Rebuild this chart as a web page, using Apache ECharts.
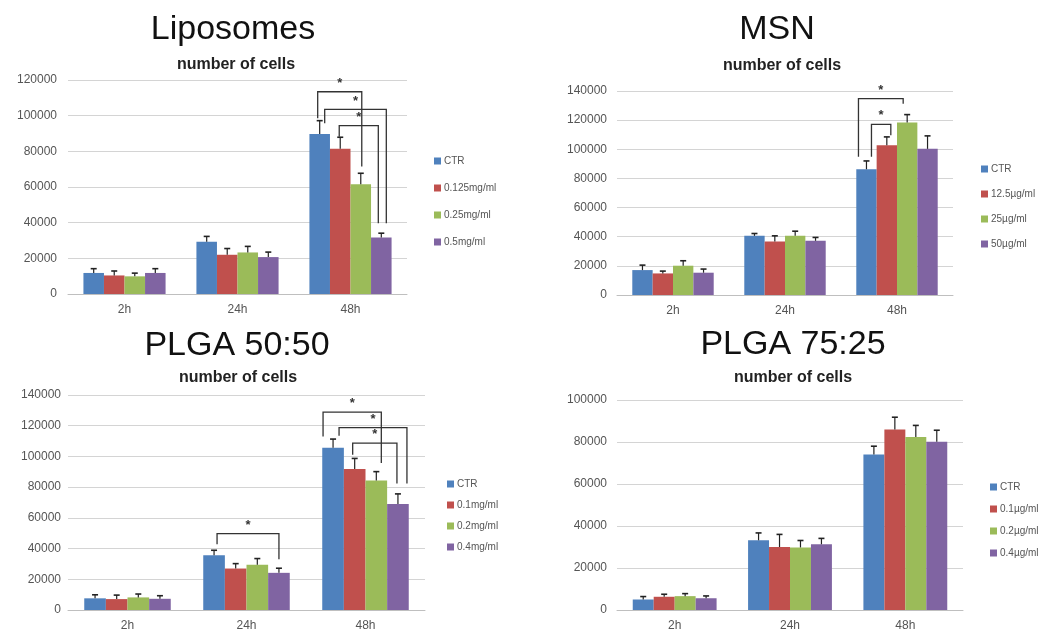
<!DOCTYPE html>
<html><head><meta charset="utf-8">
<script src="https://cdn.jsdelivr.net/npm/echarts@6/dist/echarts.min.js"></script>
<style>html,body{margin:0;padding:0;background:#fff}#c{width:1049px;height:632px}</style>
</head><body><div id="c"></div>
<script>
// ---------- DATA ----------
const categories = ['2h', '24h', '48h'];

const lipoTitle = 'Liposomes';
const lipoNames = ['CTR', '0.125mg/ml', '0.25mg/ml', '0.5mg/ml'];
const lipoValues = [[11800, 29300, 89700], [10400, 22000, 81500], [9900, 23300, 61600], [11800, 20700, 31700]];
const lipoErrors = [[2400, 3000, 7500], [2500, 3500, 6400], [1800, 3400, 6100], [2400, 2800, 2400]];
// [category, fromSeries, toSeries, topValue, leftLegEnd, rightLegEnd]
const lipoBrackets = [[2, 0, 2, 113400, 98500, 71500], [2, 0, 3, 103500, 95700, 39700], [2, 1, 3, 94400, 88200, 39700]];
const lipoTicks = [0, 120000, 20000];

const msnTitle = 'MSN';
const msnNames = ['CTR', '12.5µg/ml', '25µg/ml', '50µg/ml'];
const msnValues = [[17100, 40600, 86300], [14800, 36800, 102800], [20100, 40600, 118300], [15300, 37200, 100300]];
const msnErrors = [[3400, 1600, 5700], [1600, 3800, 5700], [3400, 3200, 5500], [2500, 2300, 8900]];
const msnBrackets = [[2, 0, 2, 134700, 94800, 131300], [2, 0, 1, 117100, 94800, 109600]];
const msnTicks = [0, 140000, 20000];

const p50Title = 'PLGA 50:50';
const p50Names = ['CTR', '0.1mg/ml', '0.2mg/ml', '0.4mg/ml'];
const p50Values = [[7600, 35600, 105600], [7100, 27000, 91800], [8200, 29400, 84300], [7300, 24200, 69100]];
const p50Errors = [[2300, 3300, 5700], [2600, 3200, 6900], [2200, 4100, 5800], [2000, 3000, 6500]];
const p50Brackets = [[1, 0, 3, 49700, 42800, 33100], [2, 0, 2, 128800, 113000, 95700], [2, 0, 3, 118800, 113500, 82300], [2, 1, 3, 108700, 101100, 82300]];
const p50Ticks = [0, 140000, 20000];

const p75Title = 'PLGA 75:25';
const p75Names = ['CTR', '0.1µg/ml', '0.2µg/ml', '0.4µg/ml'];
const p75Values = [[5000, 33200, 74100], [6300, 30000, 85900], [6600, 29800, 82400], [5600, 31300, 80100]];
const p75Errors = [[1400, 3500, 3900], [1200, 6000, 5900], [1200, 3300, 5500], [1100, 2800, 5500]];
const p75Brackets = [];
const p75Ticks = [0, 100000, 20000];

const subTitle = 'number of cells';

// ---------- STYLE / LAYOUT ----------
const colors = ['#4F81BD', '#C0504D', '#9BBB59', '#8064A2'];
const GAP = 0.273;
const panels = [
  { title: lipoTitle, names: lipoNames, values: lipoValues, errors: lipoErrors, brackets: lipoBrackets, ticks: lipoTicks,
    nudges: [[-2, 1], [5, 5], [-1, -3]],
    grid: { left: 68, top: 80, width: 339, height: 214 }, titleXY: [233, 30], subXY: [236, 65],
    legend: { left: 429, top: 150, itemGap: 15 }, yMargin: 11 },
  { title: msnTitle, names: msnNames, values: msnValues, errors: msnErrors, brackets: msnBrackets, ticks: msnTicks,
    nudges: [[-8, -4], [5, 4]],
    grid: { left: 617, top: 91, width: 336, height: 204 }, titleXY: [777, 30], subXY: [782, 66],
    legend: { left: 976, top: 158, itemGap: 13 }, yMargin: 10 },
  { title: p50Title, names: p50Names, values: p50Values, errors: p50Errors, brackets: p50Brackets, ticks: p50Ticks,
    nudges: [[3, 0], [-10, 5], [6, 9], [-2, -1]],
    grid: { left: 68, top: 395, width: 357, height: 216 }, titleXY: [237, 346], subXY: [238, 378],
    legend: { left: 442, top: 473, itemGap: 9 }, yMargin: 7 },
  { title: p75Title, names: p75Names, values: p75Values, errors: p75Errors, brackets: p75Brackets, ticks: p75Ticks,
    nudges: [],
    grid: { left: 617, top: 400, width: 346, height: 213 }, titleXY: [793, 345], subXY: [793, 378],
    legend: { left: 985, top: 476, itemGap: 10 }, yMargin: 10 }
];

function barCenter(api, c, s) {
  const catW = api.size([1, 0])[0];
  const barW = catW * (1 - GAP) / 4;
  return api.coord([c, 0])[0] - 2 * barW + (s + 0.5) * barW;
}

const option = {
  animation: false,
  backgroundColor: '#ffffff',
  grid: [], xAxis: [], yAxis: [], series: [], legend: [], graphic: []
};

panels.forEach((p, gi) => {
  option.grid.push(Object.assign({ containLabel: false }, p.grid));
  option.xAxis.push({
    type: 'category', gridIndex: gi, data: categories,
    axisLine: { show: true, lineStyle: { color: '#bfbfbf', width: 1 } },
    axisTick: { show: false },
    axisLabel: { color: '#555', fontFamily: 'Liberation Sans', fontSize: 12, margin: 10 }
  });
  option.yAxis.push({
    type: 'value', gridIndex: gi, min: p.ticks[0], max: p.ticks[1], interval: p.ticks[2],
    axisLine: { show: false }, axisTick: { show: false },
    splitLine: { lineStyle: { color: '#d4d4d4', width: 1 } },
    axisLabel: { color: '#555', fontFamily: 'Liberation Sans', fontSize: 12, margin: p.yMargin,
      formatter: v => String(v) }
  });
  p.names.forEach((n, s) => {
    option.series.push({
      type: 'bar', name: n, xAxisIndex: gi, yAxisIndex: gi, data: p.values[s],
      barGap: '0%', barCategoryGap: (GAP * 100) + '%',
      itemStyle: { color: colors[s] }, z: 2
    });
  });
  // error bars (positive side)
  const errData = [];
  p.values.forEach((row, s) => row.forEach((v, c) => errData.push([c, s, v, p.errors[s][c]])));
  option.series.push({
    type: 'custom', xAxisIndex: gi, yAxisIndex: gi, data: errData, encode: { x: 0, y: 2 }, z: 5,
    silent: true,
    renderItem: (params, api) => {
      const c = api.value(0), s = api.value(1), v = api.value(2), e = api.value(3);
      const x = barCenter(api, c, s);
      const y0 = api.coord([c, v])[1], y1 = api.coord([c, v + e])[1];
      const st = { stroke: '#222', lineWidth: 1.2 };
      return { type: 'group', children: [
        { type: 'line', shape: { x1: x, y1: y0, x2: x, y2: y1 }, style: st },
        { type: 'line', shape: { x1: x - 3, y1: y1, x2: x + 3, y2: y1 }, style: { stroke: '#222', lineWidth: 1.6 } }
      ] };
    }
  });
  // significance brackets
  if (p.brackets.length) {
    option.series.push({
      type: 'custom', xAxisIndex: gi, yAxisIndex: gi, data: p.brackets, encode: { x: 0, y: 3 }, z: 6,
      silent: true,
      renderItem: (params, api) => {
        const c = api.value(0), s1 = api.value(1), s2 = api.value(2);
        const top = api.value(3), b1 = api.value(4), b2 = api.value(5);
        const nd = p.nudges[params.dataIndex] || [0, 0];
        const xl = barCenter(api, c, s1) + nd[0], xr = barCenter(api, c, s2) + nd[1];
        const yt = api.coord([c, top])[1], yl = api.coord([c, b1])[1], yr = api.coord([c, b2])[1];
        return { type: 'group', children: [
          { type: 'polyline', shape: { points: [[xl, yl], [xl, yt], [xr, yt], [xr, yr]] },
            style: { stroke: '#333', lineWidth: 1.3, fill: null } },
          { type: 'text', x: (xl + xr) / 2, y: yt - 2,
            style: { text: '*', fill: '#333', font: 'bold 13px Liberation Sans', align: 'center', verticalAlign: 'bottom' } }
        ] };
      }
    });
  }
  option.legend.push({
    orient: 'vertical', left: p.legend.left, top: p.legend.top, itemGap: p.legend.itemGap,
    data: p.names, icon: 'rect', itemWidth: 7, itemHeight: 7, selectedMode: false,
    textStyle: { color: '#555', fontFamily: 'Liberation Sans', fontSize: 10, lineHeight: 12, padding: [0, 0, 0, -2] }
  });
  option.graphic.push({
    type: 'text', x: p.titleXY[0], y: p.titleXY[1],
    style: { text: p.title, fill: '#111', font: '34px Liberation Sans', align: 'center', verticalAlign: 'middle' }
  });
  option.graphic.push({
    type: 'text', x: p.subXY[0], y: p.subXY[1],
    style: { text: subTitle, fill: '#222', font: 'bold 16px Liberation Sans', align: 'center', verticalAlign: 'middle' }
  });
});

const chart = echarts.init(document.getElementById('c'), null, { renderer: 'canvas' });
chart.setOption(option);
</script>
</body></html>
